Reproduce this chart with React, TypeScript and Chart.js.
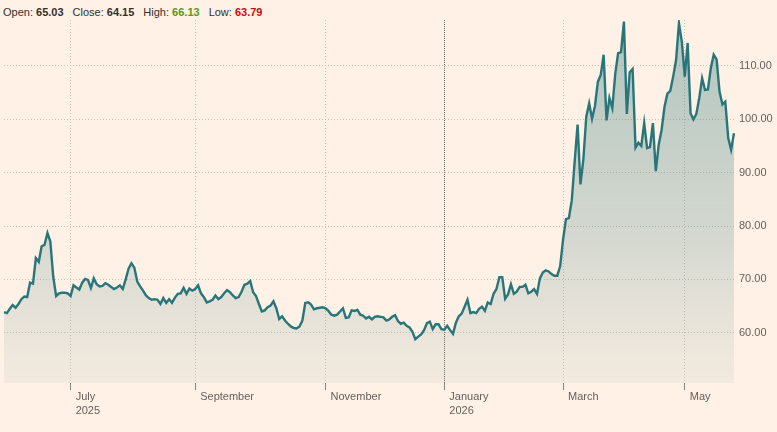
import { useEffect, useRef } from 'react';
import { Chart, registerables } from 'chart.js';

Chart.register(...registerables);

// ---- data ----
const startDate = '2025-05-29';
const holidays = [
  '2025-08-25', '2025-12-25', '2025-12-26', '2026-01-01',
  '2026-04-03', '2026-04-06', '2026-05-04', '2026-05-25',
];

const prices = [
  63.9, 63.7, 64.5, 65.2, 64.7, 65.4, 66.3, 66.8, 66.7, 69.4,
  69.2, 74.0, 73.3, 76.2, 76.5, 78.7, 77.1, 70.5, 66.9, 67.4,
  67.5, 67.5, 67.4, 66.9, 68.9, 68.5, 68.1, 69.4, 70.1, 69.9,
  68.4, 70.2, 69.1, 68.7, 68.8, 69.3, 69.0, 68.6, 68.2, 68.5,
  68.9, 68.2, 70.0, 72.0, 73.0, 72.2, 69.6, 68.7, 67.9, 67.0,
  66.5, 66.2, 66.3, 66.2, 65.4, 66.5, 65.6, 66.3, 65.6, 66.6,
  67.3, 67.4, 68.4, 67.3, 68.3, 67.9, 68.2, 68.9, 67.4, 66.7,
  65.7, 65.9, 66.2, 67.0, 66.3, 66.7, 67.4, 68.0, 67.6, 67.0,
  66.5, 66.7, 67.7, 69.0, 69.2, 69.7, 67.6, 66.9, 65.4, 64.0,
  64.2, 64.8, 65.1, 65.9, 64.6, 62.6, 63.1, 62.3, 61.7, 61.2,
  60.9, 60.8, 61.2, 62.3, 65.6, 65.7, 65.3, 64.4, 64.6, 64.7,
  64.8, 64.6, 64.1, 63.4, 63.2, 63.4, 64.0, 64.6, 62.8, 62.9,
  64.2, 64.1, 64.3, 63.4, 63.2, 62.7, 63.0, 62.5, 63.0, 63.1,
  63.0, 62.9, 62.3, 62.5, 63.0, 63.3, 62.2, 61.7, 61.9, 61.3,
  61.0, 60.2, 58.8, 59.3, 59.7, 60.5, 61.8, 62.1, 60.7, 61.6,
  61.6, 60.7, 60.6, 61.3, 60.5, 59.8, 61.9, 63.1, 63.6, 64.9,
  66.2, 63.7, 63.9, 63.7, 64.5, 64.9, 64.1, 65.7, 65.4, 67.3,
  68.2, 70.4, 70.4, 66.4, 67.2, 69.1, 67.3, 67.7, 68.6, 68.6,
  69.0, 67.4, 67.7, 68.2, 67.3, 70.2, 71.3, 71.7, 71.5, 71.0,
  70.7, 70.7, 72.5, 77.5, 81.3, 81.5, 84.8, 92.1, 99.0, 87.8,
  92.5, 100.5, 103.0, 100.1, 102.5, 107.0, 108.3, 112.1, 99.8, 104.0,
  102.1, 108.5, 112.4, 112.6, 118.3, 101.0, 108.8, 109.4, 94.7, 95.6,
  95.0, 99.3, 94.6, 94.8, 99.3, 90.3, 95.2, 98.0, 102.3, 104.8,
  105.3, 108.0, 111.1, 118.0, 114.5, 108.0, 114.3, 101.1, 100.0, 101.0,
  104.0, 107.7, 105.5, 105.6, 109.6, 112.1, 111.2, 105.2, 102.8, 103.3,
  96.5, 94.3, 97.4,
];

const yTicks = [60, 70, 80, 90, 100, 110];
const yMin = 50.6;
const yMax = 118.6;

const tickMonths = ['2025-07', '2025-09', '2025-11', '2026-01', '2026-03', '2026-05'];
const tickLabels: (string | string[])[] = [
  ['July', '2025'], 'September', 'November', ['January', '2026'], 'March', 'May',
];
const yearMonths = ['2026-01'];

const headerItems = [
  { label: 'Open:', value: '65.03', color: '#33302e' },
  { label: 'Close:', value: '64.15', color: '#33302e' },
  { label: 'High:', value: '66.13', color: '#5a961a' },
  { label: 'Low:', value: '63.79', color: '#cc0a0a' },
];

// ---- helpers ----
function tradingDays(start: string, n: number): string[] {
  const out: string[] = [];
  const d = new Date(start + 'T00:00:00Z');
  while (out.length < n) {
    const dow = d.getUTCDay();
    const s = d.toISOString().slice(0, 10);
    if (dow !== 0 && dow !== 6 && !holidays.includes(s)) out.push(s);
    d.setUTCDate(d.getUTCDate() + 1);
  }
  return out;
}

const FONT = '"Liberation Sans", Arial, Helvetica, sans-serif';
const LINE = '#28767a';

export default function App() {
  const ref = useRef<HTMLCanvasElement | null>(null);

  useEffect(() => {
    if (!ref.current) return;
    const dates = tradingDays(startDate, prices.length);
    const tickIdx = tickMonths.map((m) => dates.findIndex((d) => d.startsWith(m)));
    const labelMap = new Map<number, string | string[]>();
    tickIdx.forEach((i, k) => labelMap.set(i, tickLabels[k]));
    const yearIdx = new Set(
      yearMonths.map((m) => dates.findIndex((d) => d.startsWith(m)))
    );

    const chart = new Chart(ref.current, {
      type: 'line',
      data: {
        labels: dates,
        datasets: [
          {
            data: prices,
            borderColor: LINE,
            borderWidth: 2.4,
            pointRadius: 0,
            tension: 0,
            fill: 'start',
            backgroundColor: (context: any) => {
              const { chart: c } = context;
              const area = c.chartArea;
              if (!area) return 'rgba(40,118,122,0.2)';
              const g = c.ctx.createLinearGradient(0, area.top, 0, area.bottom);
              g.addColorStop(0, 'rgba(40,118,122,0.36)');
              g.addColorStop(0.55, 'rgba(40,118,122,0.21)');
              g.addColorStop(1, 'rgba(40,118,122,0.05)');
              return g;
            },
          },
        ],
      },
      options: {
        animation: false,
        responsive: true,
        maintainAspectRatio: false,
        layout: { padding: { left: 4, top: 20, right: 0, bottom: 0 } },
        plugins: {
          legend: { display: false },
          tooltip: { enabled: false },
        },
        scales: {
          x: {
            type: 'category',
            offset: false,
            afterBuildTicks: (axis: any) => {
              axis.ticks = tickIdx.map((i) => ({ value: i }));
            },
            afterFit: (axis: any) => {
              axis.height = 49;
            },
            grid: {
              offset: false,
              drawOnChartArea: true,
              drawTicks: true,
              tickLength: 7,
              color: (ctx: any) =>
                ctx.tick && yearIdx.has(ctx.tick.value) ? '#6e6762' : '#cdc2b8',
              tickColor: '#8a837e',
              lineWidth: 1,
            },
            border: {
              display: false,
              dash: (ctx: any) =>
                ctx.tick && yearIdx.has(ctx.tick.value) ? [1, 1] : [1, 2],
            },
            ticks: {
              autoSkip: false,
              maxRotation: 0,
              minRotation: 0,
              align: 'start',
              labelOffset: 5,
              padding: -1,
              color: '#66605c',
              font: { family: FONT, size: 11, lineHeight: 1.36 },
              callback: (value: any) => labelMap.get(Number(value)) ?? '',
            },
          },
          y: {
            position: 'right',
            min: yMin,
            max: yMax,
            afterBuildTicks: (axis: any) => {
              axis.ticks = yTicks.map((v) => ({ value: v }));
            },
            afterFit: (axis: any) => {
              axis.width = 43;
            },
            grid: {
              drawTicks: false,
              color: '#cdc2b8',
              lineWidth: 1,
            },
            border: { display: false, dash: [1, 2] },
            ticks: {
              padding: 5,
              color: '#66605c',
              font: { family: FONT, size: 11 },
              callback: (v: any) => Number(v).toFixed(2),
            },
          },
        },
      } as any,
    });
    return () => chart.destroy();
  }, []);

  return (
    <div
      style={{
        position: 'fixed',
        left: 0,
        top: 0,
        width: 777,
        height: 432,
        background: '#fff1e5',
        overflow: 'hidden',
      }}
    >
      <div
        style={{
          position: 'absolute',
          left: 3,
          top: 5,
          fontFamily: FONT,
          fontSize: 11,
          lineHeight: '14px',
          color: '#33302e',
          whiteSpace: 'nowrap',
          display: 'flex',
          gap: 9,
        }}
      >
        {headerItems.map((h) => (
          <span key={h.label}>
            {h.label} <b style={{ color: h.color }}>{h.value}</b>
          </span>
        ))}
      </div>
      <canvas ref={ref} style={{ position: 'absolute', left: 0, top: 0, width: 777, height: 432 }} />
    </div>
  );
}
